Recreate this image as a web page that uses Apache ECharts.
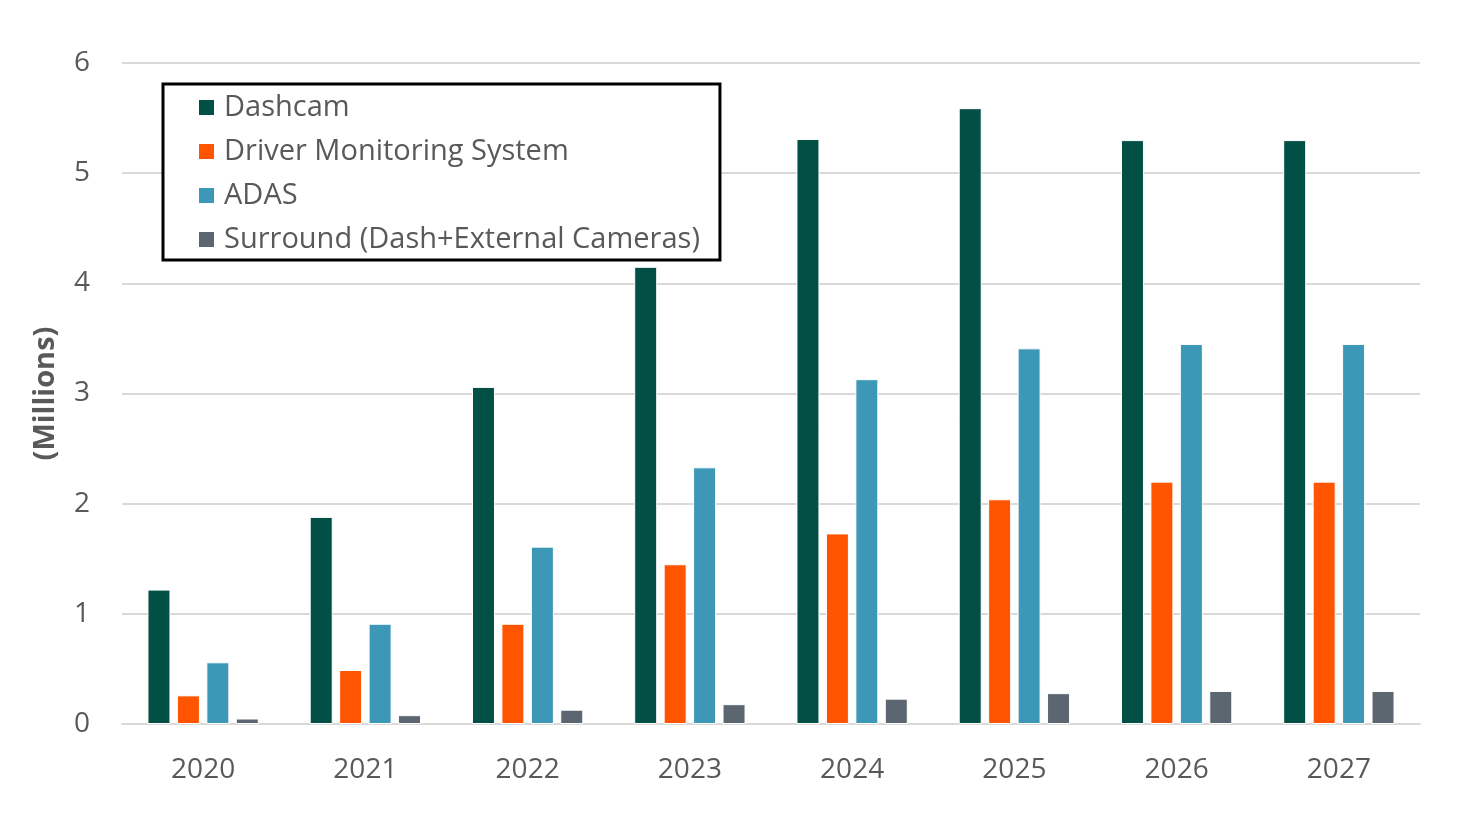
<!DOCTYPE html>
<html>
<head>
<meta charset="utf-8">
<script src="https://cdn.jsdelivr.net/npm/echarts@6/dist/echarts.min.js"></script>
<style>
html,body{margin:0;padding:0;background:#fff;}
#chart{width:1461px;height:823px;}
</style>
</head>
<body>
<div id="chart"></div>
<script>
const categories = ['2020','2021','2022','2023','2024','2025','2026','2027'];
const dashcam = [1.22, 1.88, 3.06, 4.15, 5.31, 5.59, 5.30, 5.30];
const dms = [0.26, 0.49, 0.91, 1.45, 1.73, 2.04, 2.20, 2.20];
const adas = [0.56, 0.91, 1.61, 2.33, 3.13, 3.41, 3.45, 3.45];
const surround = [0.05, 0.08, 0.13, 0.18, 0.23, 0.28, 0.30, 0.30];
const seriesNames = ['Dashcam','Driver Monitoring System','ADAS','Surround (Dash+External Cameras)'];
const colors = ['#024F46','#FF5400','#3D97B6','#5B6670'];
const yTicks = [0,1,2,3,4,5,6];

const FONT = '"Open Sans", "Noto Sans", sans-serif';
const chart = echarts.init(document.getElementById('chart'));
const mk = (name, data, i) => ({
  name, type: 'bar', data,
  barWidth: 23, barGap: '28%',
  itemStyle: { color: colors[i], borderColor: '#ffffff', borderWidth: 1 }
});
chart.setOption({
  animation: false,
  textStyle: { fontFamily: FONT },
  grid: { left: 122, right: 41, top: 63, bottom: 99 },
  legend: {
    orient: 'vertical', left: 163, top: 84,
    backgroundColor: '#fff',
    borderColor: '#000', borderWidth: 3,
    padding: [9, 20, 6, 34],
    itemWidth: 17, itemHeight: 17, itemGap: 15,
    icon: 'rect',
    textStyle: { fontSize: 29, color: '#595959', fontFamily: FONT, padding: [0,0,0,4] },
    data: seriesNames
  },
  xAxis: {
    type: 'category', data: categories,
    axisLine: { lineStyle: { color: '#d9d9d9', width: 2 } },
    axisTick: { show: false },
    axisLabel: { fontSize: 28, color: '#595959', margin: 32, fontFamily: FONT }
  },
  yAxis: {
    type: 'value', min: 0, max: 6, interval: 1,
    name: '(Millions)', nameLocation: 'middle', nameGap: 62, nameRotate: 90,
    nameTextStyle: { fontSize: 29, fontWeight: 'bold', color: '#595959', fontFamily: FONT },
    axisLine: { show: false }, axisTick: { show: false },
    axisLabel: { fontSize: 28, color: '#595959', margin: 32, fontFamily: FONT,
      formatter: v => yTicks.includes(v) ? String(v) : '' },
    splitLine: { lineStyle: { color: '#d9d9d9', width: 2 } }
  },
  series: [mk(seriesNames[0], dashcam, 0), mk(seriesNames[1], dms, 1), mk(seriesNames[2], adas, 2), mk(seriesNames[3], surround, 3)]
});
</script>
</body>
</html>
